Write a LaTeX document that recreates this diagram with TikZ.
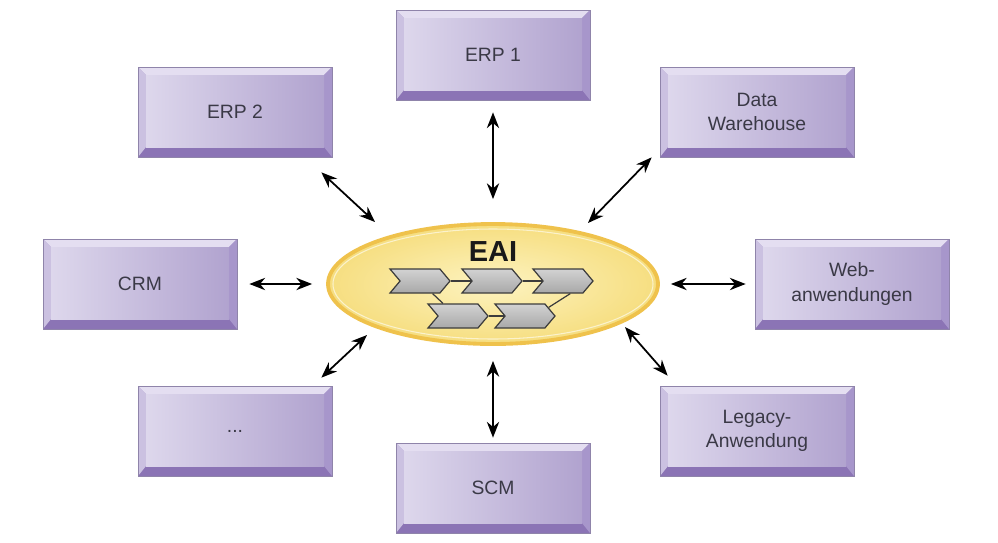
\documentclass[tikz,border=0pt]{standalone}
\usepackage{fontspec}
\setmainfont{Liberation Sans}
\usetikzlibrary{arrows.meta,shapes.geometric,shapes.symbols}

\definecolor{faceleft}{HTML}{DDD7EC}
\definecolor{faceright}{HTML}{B1A3CF}
\definecolor{beveltop}{HTML}{E4DEF1}
\definecolor{bevelleft}{HTML}{CBC1E1}
\definecolor{bevelright}{HTML}{A796CB}
\definecolor{bevelbot}{HTML}{8B74B5}
\definecolor{boxline}{HTML}{8F84AA}
\definecolor{boxtext}{HTML}{3A3946}
\definecolor{eaiin}{HTML}{FDF3C0}
\definecolor{eaiout}{HTML}{F6DE80}
\definecolor{eaiborder}{HTML}{EFC24C}
\definecolor{chevtop}{HTML}{D2D2D2}
\definecolor{chevbot}{HTML}{A8A8A8}
\definecolor{chevline}{HTML}{3C3C3C}

\tikzset{
  sysbox/.style={minimum width=3.88cm, minimum height=1.8cm, inner sep=0pt,
    align=center, text=boxtext, font=\fontsize{11pt}{14pt}\selectfont},
  chev/.style={signal, signal to=east, signal from=west, signal pointer angle=100,
    minimum width=1.2cm, minimum height=0.48cm, inner sep=0pt,
    top color=chevtop, bottom color=chevbot, draw=chevline, line width=0.7pt},
  link/.style={{Stealth[length=9pt,width=7pt]}-{Stealth[length=9pt,width=7pt]}, line width=1pt},
}

\begin{document}
\begin{tikzpicture}[x=0.02cm, y=-0.02cm]
\newcommand\sysboxdraw[4]{
  \fill [bevelbot] (#2-97, #3-45) rectangle (#2+97, #3+45);
  \fill [beveltop] (#2-97, #3-45) -- (#2+97, #3-45) -- (#2+89, #3-37) -- (#2-89, #3-37) -- cycle;
  \fill [bevelleft] (#2-97, #3-45) -- (#2-89, #3-37) -- (#2-89, #3+35) -- (#2-97, #3+45) -- cycle;
  \fill [bevelright] (#2+97, #3-45) -- (#2+97, #3+45) -- (#2+89, #3+35) -- (#2+89, #3-37) -- cycle;
  \shade [left color=faceleft, right color=faceright] (#2-89, #3-37) rectangle (#2+89, #3+35);
  \draw [boxline, line width=0.4pt] (#2-97, #3-45) rectangle (#2+97, #3+45);
  \node (#1) at (#2, #3) [sysbox] {#4};
}
\useasboundingbox (0, 0) rectangle (998, 542);

\sysboxdraw{erpone}{493}{55}{ERP 1}
\sysboxdraw{erptwo}{235}{112}{ERP 2}
\sysboxdraw{dwh}{757}{112}{Data\\Warehouse}
\sysboxdraw{crm}{140}{284}{CRM}
\sysboxdraw{web}{852}{284}{Web-\\anwendungen}
\sysboxdraw{dots}{235}{431}{...}
\sysboxdraw{legacy}{757}{431}{Legacy-\\Anwendung}
\sysboxdraw{scm}{493}{488}{SCM}

% EAI ellipse
\node (eai) at (493, 284) [ellipse, minimum width=6.6cm, minimum height=2.4cm,
  inner color=eaiin, outer color=eaiout, draw=eaiborder, line width=2.2pt] {};
\draw [white!60!eaiout, line width=0.6pt] (eai.center) ellipse (160 and 55);
\node (eaititle) at (493, 252) [font=\fontsize{16.5pt}{18pt}\selectfont\bfseries, text=black!90] {EAI};

\node (cha) at (420, 281) [chev] {};
\node (chb) at (492, 281) [chev] {};
\node (chc) at (563, 281) [chev] {};
\node (chd) at (458, 316) [chev] {};
\node (che) at (525, 316) [chev] {};
\draw [chevline, line width=0.7pt] (cha.east) -- (chb.west);
\draw [chevline, line width=0.7pt] (chb.east) -- (chc.west);
\draw [chevline, line width=0.7pt] (chd.east) -- (che.west);
\draw [chevline, line width=0.7pt] (cha.315) -- (chd.140);
\draw [chevline, line width=0.7pt] (chc.300) -- (che.20);

% connectors
\coordinate (erptwoend) at ([shift={(-11,15)}]erptwo.south east);
\coordinate (eaierptwo) at ([shift={(-118,-62)}]eai.center);
\coordinate (dwhend) at ([shift={(-8,0)}]dwh.south west);
\coordinate (eaidwh) at ([shift={(95,-61)}]eai.center);
\coordinate (dotsend) at ([shift={(-11,-8)}]dots.north east);
\coordinate (eaidots) at ([shift={(-126,51)}]eai.center);
\coordinate (legacyend) at ([shift={(8,-10)}]legacy.north west);
\coordinate (eailegacy) at ([shift={(132,43)}]eai.center);

\draw [link, shorten <=0.24cm, shorten >=0.46cm] (erpone.south) -- (eai.north);
\draw [link, shorten <=0.3cm, shorten >=0.1cm] (eai.south) -- (scm.north);
\draw [link, shorten <=0.24cm, shorten >=0.28cm] (crm.east) -- (eai.west);
\draw [link, shorten <=0.22cm, shorten >=0.18cm] (eai.east) -- (web.west);
\draw [link] (erptwoend) -- (eaierptwo);
\draw [link] (dwhend) -- (eaidwh);
\draw [link] (dotsend) -- (eaidots);
\draw [link] (legacyend) -- (eailegacy);

\end{tikzpicture}
\end{document}
